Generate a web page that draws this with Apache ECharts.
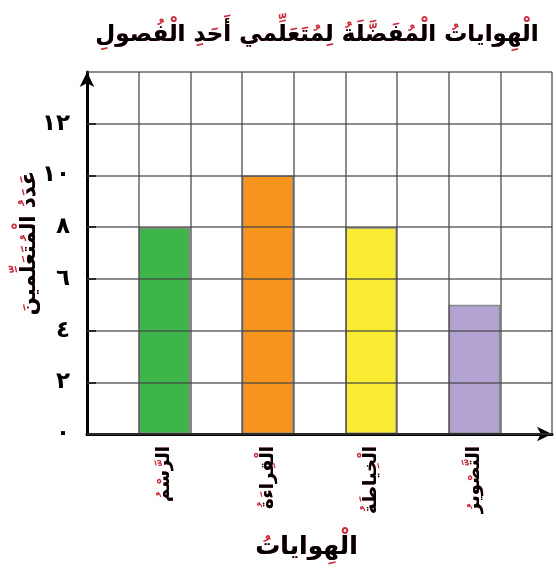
<!DOCTYPE html>
<html>
<head>
<meta charset="utf-8">
<script src="https://cdn.jsdelivr.net/npm/echarts@6/dist/echarts.min.js"></script>
<style>
  html, body { margin: 0; padding: 0; background: #fff; }
  #chart { width: 556px; height: 577px; }
</style>
</head>
<body>
<div id="chart"></div>
<script>
// Hobbies and number of learners choosing each one
const hobbies = ['الرسم', 'القراءة', 'الخياطة', 'التصوير'];
const hobbiesVoweled = ['الرَّسْمُ', 'الْقِراءَةُ', 'الْخِياطَةُ', 'التَّصْويرُ'];
const learners = [8, 10, 8, 5];
const barColors = ['#3db54a', '#f7941e', '#f9ec32', '#b2a3d1'];
const yTickLabels = ['٠', '٢', '٤', '٦', '٨', '١٠', '١٢'];

const titlePlain = 'الهوايات المفضلة لمتعلمي أحد الفصول';
const titleVoweled = 'الْهِواياتُ الْمُفَضَّلَةُ لِمُتَعَلِّمي أَحَدِ الْفُصولِ';
const yNamePlain = 'عدد المتعلمين';
const yNameVoweled = 'عَدَدُ الْمُتَعَلِّمينَ';
const xNamePlain = 'الهوايات';
const xNameVoweled = 'الْهِواياتُ';

// Each hobby sits in every other column of a 9-column grid
const SLOTS = 9;
const slotsPlain = [], slotsVoweled = [], slotData = [];
for (let i = 0; i < SLOTS; i++) {
  const k = (i - 1) / 2;
  if (i % 2 === 1 && k < hobbies.length) {
    slotsPlain.push(hobbies[k]);
    slotsVoweled.push(hobbiesVoweled[k]);
    slotData.push({ value: learners[k], itemStyle: { color: barColors[k] } });
  } else {
    slotsPlain.push('');
    slotsVoweled.push('');
    slotData.push(null);
  }
}

const FONT = 'DejaVu Sans';
const RED = '#cc2b3c';
const GRIDLINE = 'rgba(70,70,70,0.62)';

const chart = echarts.init(document.getElementById('chart'), null, { renderer: 'canvas' });

// Text is drawn twice: harakat version in red beneath, bare letters in black above
chart.setOption({
  animation: false,
  backgroundColor: '#fff',
  title: [
    { text: titleVoweled, left: 312, top: 19, textAlign: 'center',
      textStyle: { fontFamily: FONT, fontSize: 23, fontWeight: 'bold', color: RED } },
    { text: titlePlain, left: 312, top: 19, textAlign: 'center',
      textStyle: { fontFamily: FONT, fontSize: 23, fontWeight: 'bold', color: '#000' } }
  ],
  grid: { left: 87, right: 4, top: 72, bottom: 143, containLabel: false, outerBoundsMode: 'none' },
  xAxis: [
    {
      type: 'category', data: slotsVoweled, boundaryGap: true, position: 'bottom', z: 5,
      axisLine: { show: true, symbol: ['none', 'arrow'], symbolSize: [11, 15],
        lineStyle: { color: '#000', width: 3 } },
      axisTick: { show: false },
      axisLabel: { interval: 0, rotate: 90, margin: 12, fontFamily: FONT, fontSize: 18,
        fontWeight: 'bold', color: RED },
      splitLine: { show: true, interval: 0, lineStyle: { color: GRIDLINE, width: 2 } },
      name: xNameVoweled, nameLocation: 'middle', nameGap: 101, nameMoveOverlap: false,
      nameTextStyle: { fontFamily: FONT, fontSize: 25, fontWeight: 'bold', color: RED,
        padding: [0, 26, 0, 0] }
    },
    {
      type: 'category', data: slotsPlain, boundaryGap: true, position: 'bottom', offset: 0, z: 6,
      axisLine: { show: false }, axisTick: { show: false }, splitLine: { show: false },
      axisLabel: { interval: 0, rotate: 90, margin: 12, fontFamily: FONT, fontSize: 18,
        fontWeight: 'bold', color: '#000' },
      name: xNamePlain, nameLocation: 'middle', nameGap: 101, nameMoveOverlap: false,
      nameTextStyle: { fontFamily: FONT, fontSize: 25, fontWeight: 'bold', color: '#000',
        padding: [0, 26, 0, 0] }
    }
  ],
  yAxis: [
    {
      type: 'value', min: 0, max: 14, interval: 2, position: 'left', z: 5,
      axisLine: { show: true, symbol: ['none', 'arrow'], symbolSize: [11, 15],
        lineStyle: { color: '#000', width: 3 } },
      axisTick: { show: true, inside: true, length: 9, customValues: [2, 4, 6, 8, 10, 12],
        lineStyle: { color: '#000', width: 2 } },
      axisLabel: { customValues: [0, 2, 4, 6, 8, 10, 12], margin: 17,
        formatter: v => yTickLabels[v / 2] || '',
        fontFamily: FONT, fontSize: 23, fontWeight: 'bold', color: '#000' },
      splitLine: { show: false },
      name: yNameVoweled, nameLocation: 'middle', nameRotate: 90, nameGap: 47,
      nameMoveOverlap: false,
      nameTextStyle: { fontFamily: FONT, fontSize: 21, fontWeight: 'bold', color: RED,
        padding: [0, 0, 0, 20] }
    },
    {
      // horizontal grid lines, 0 to 14, plus the black copy of the axis name
      type: 'value', min: 0, max: 14, interval: 2, position: 'left', offset: 0, z: 6,
      axisLine: { show: false }, axisTick: { show: false }, axisLabel: { show: false },
      splitLine: { show: true, lineStyle: { color: GRIDLINE, width: 2 } },
      name: yNamePlain, nameLocation: 'middle', nameRotate: 90, nameGap: 47,
      nameMoveOverlap: false,
      nameTextStyle: { fontFamily: FONT, fontSize: 21, fontWeight: 'bold', color: '#000',
        padding: [0, 0, 0, 20] }
    }
  ],
  series: [
    {
      type: 'bar', xAxisIndex: 0, yAxisIndex: 0, data: slotData,
      barWidth: '100%', barCategoryGap: '0%', z: 2,
      itemStyle: { borderColor: '#8a8a8a', borderWidth: 1.5 }
    }
  ]
});
</script>
</body>
</html>
